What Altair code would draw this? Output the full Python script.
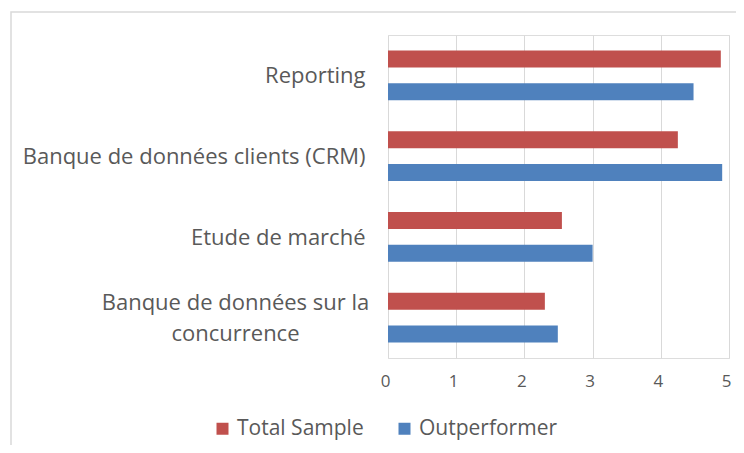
import altair as alt
import pandas as pd

categories = [
    "Reporting",
    "Banque de données clients (CRM)",
    "Etude de marché",
    "Banque de données sur la concurrence",
]
series = ["Total Sample", "Outperformer"]
total_sample = [4.88, 4.25, 2.55, 2.30]
outperformer = [4.48, 4.90, 3.00, 2.49]
x_ticks = [0, 1, 2, 3, 4, 5]
colors = ["#C0504D", "#4F81BD"]

rows = []
for c, t, o in zip(categories, total_sample, outperformer):
    rows.append({"cat": c, "series": series[0], "value": t})
    rows.append({"cat": c, "series": series[1], "value": o})
df = pd.DataFrame(rows)

FONT = "Open Sans"
GRAY = "#595959"
LONG = categories[3]
TEST = f"datum.value == '{LONG}'"

bars = alt.Chart(df).mark_bar().encode(
    x=alt.X(
        "value:Q",
        scale=alt.Scale(domain=[0, 5], nice=False),
        axis=alt.Axis(
            values=x_ticks, title=None, grid=True, gridColor="#d9d9d9",
            domain=False, ticks=False, labelFont=FONT, labelFontSize=17,
            labelColor=GRAY, labelPadding=15, labelFlush=False, labelOffset=-3,
        ),
    ),
    y=alt.Y(
        "cat:N",
        sort=categories,
        scale=alt.Scale(paddingInner=0, paddingOuter=0),
        axis=alt.Axis(
            title=None, domain=False, ticks=False, labelFont=FONT,
            labelFontSize=22, labelColor=GRAY, labelLimit=400,
            labelExpr=f"{TEST} ? ['Banque de données sur la', 'concurrence'] : datum.value",
            labelLineHeight=31,
            labelAlign=alt.condition(TEST, alt.value("center"), alt.value("right")),
            labelPadding=alt.condition(TEST, alt.value(153), alt.value(23)),
            labelOffset=alt.condition(TEST, alt.value(-15), alt.value(1)),
        ),
    ),
    yOffset=alt.YOffset(
        "series:N",
        sort=series,
        scale=alt.Scale(domain=series, paddingInner=0.485, paddingOuter=0.47),
    ),
    color=alt.Color(
        "series:N",
        scale=alt.Scale(domain=series, range=colors),
        legend=alt.Legend(
            title=None, orient="none", direction="horizontal",
            legendX=-176, legendY=383, symbolType="square", symbolSize=144,
            symbolStrokeWidth=0, labelFont=FONT, labelFontSize=21,
            labelColor=GRAY, labelOffset=4, columnPadding=30, padding=0,
        ),
    ),
)

frame = alt.Chart(pd.DataFrame({"a": [0]})).mark_rect(
    fill=None, stroke="#d9d9d9", strokeWidth=1.5, clip=False
).encode(
    x=alt.value(-377), x2=alt.value(400), y=alt.value(-23), y2=alt.value(450)
)

chart = alt.layer(frame, bars).properties(
    width=341,
    height=323,
    autosize=alt.AutoSizeParams(type="none"),
    padding={"left": 380, "top": 27, "right": 7, "bottom": 87},
).configure_view(stroke=None).configure(background="white")

chart.save("out.html", embed_options={"renderer": "svg", "actions": False})
